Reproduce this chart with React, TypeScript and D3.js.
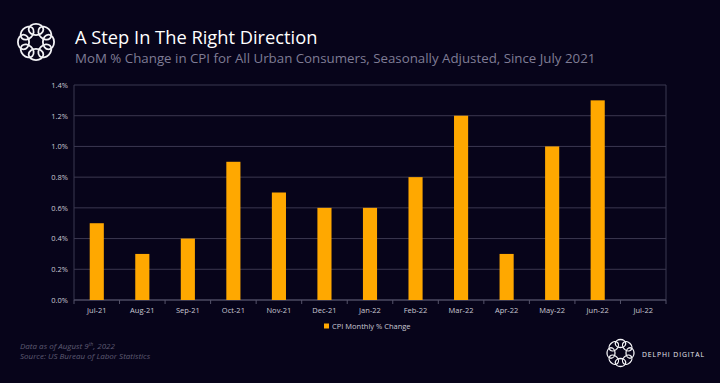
import React from "react";
import * as d3 from "d3";

const categories = ["Jul-21","Aug-21","Sep-21","Oct-21","Nov-21","Dec-21","Jan-22","Feb-22","Mar-22","Apr-22","May-22","Jun-22","Jul-22"];
const cpiValues: (number | null)[] = [0.5,0.3,0.4,0.9,0.7,0.6,0.6,0.8,1.2,0.3,1.0,1.3,null];
const yTicks = [0,0.2,0.4,0.6,0.8,1.0,1.2,1.4];

const W = 720, H = 383;
const BG = "#07041a";
const ORANGE = "#FFA800";
const GRID = "#3b3850";
const FONT = "'Open Sans', 'Liberation Sans', sans-serif";

function Logo({ cx, cy, r, lr, sw }: { cx: number; cy: number; r: number; lr: number; sw: number }) {
  const n = 8;
  return (
    <g fill="none" stroke="#f2f2f5" strokeWidth={sw}>
      {d3.range(n).map(i => {
        const a = (i / n) * Math.PI * 2 - Math.PI / 2;
        const x = cx + r * Math.cos(a), y = cy + r * Math.sin(a);
        return (
          <ellipse key={i} cx={x} cy={y} rx={lr * 1.05} ry={lr * 0.8}
            transform={`rotate(${(a * 180) / Math.PI + 90} ${x} ${y})`} />
        );
      })}
    </g>
  );
}

export default function App() {
  const x0 = 74, x1 = 666, yTop = 85, yBot = 300;
  const x = d3.scaleBand<string>().domain(categories).range([x0, x1]).paddingInner(0.69).paddingOuter(0.345);
  const xb = d3.scaleBand<string>().domain(categories).range([x0, x1]);
  const y = d3.scaleLinear().domain([0, 1.4]).range([yBot, yTop]);
  const fmt = d3.format(".1f");
  return (
    <svg width={W} height={H} style={{ position: "absolute", left: 0, top: 0, display: "block" }}>
      <rect width={W} height={H} fill={BG} />
      <Logo cx={36} cy={42} r={12.5} lr={7} sw={1.8} />
      <text x={75} y={44} fill="#ffffff" fontFamily={FONT} fontSize={18.3}>A Step In The Right Direction</text>
      <text x={75} y={63} fill="#7f7c95" fontFamily={FONT} fontSize={13.3}>MoM % Change in CPI for All Urban Consumers, Seasonally Adjusted, Since July 2021</text>

      {yTicks.map(t => (
        <g key={t}>
          <line x1={x0} x2={x1} y1={y(t)} y2={y(t)} stroke={GRID} strokeWidth={1} />
          <text x={x0 - 6} y={y(t) + 2.8} textAnchor="end" fill="#c9c8d3" fontFamily={FONT} fontSize={7.5}>{fmt(t)}%</text>
        </g>
      ))}
      <line x1={x0} x2={x0} y1={yTop} y2={yBot} stroke={GRID} />
      <line x1={x1} x2={x1} y1={yTop} y2={yBot} stroke={GRID} />
      <line x1={x0} x2={x1} y1={yBot} y2={yBot} stroke="#55536a" />
      {categories.map(c => (
        <line key={"t" + c} x1={xb(c)!} x2={xb(c)!} y1={yBot} y2={yBot + 4} stroke="#55536a" />
      ))}
      <line x1={x1} x2={x1} y1={yBot} y2={yBot + 4} stroke="#55536a" />

      {categories.map((c, i) => {
        const v = cpiValues[i];
        return v == null ? null : (
          <rect key={c} x={x(c)!} width={x.bandwidth()} y={y(v)} height={y(0) - y(v)} fill={ORANGE} />
        );
      })}
      {categories.map(c => (
        <text key={"l" + c} x={xb(c)! + xb.bandwidth() / 2} y={313} textAnchor="middle" fill="#c9c8d3" fontFamily={FONT} fontSize={7.5}>{c}</text>
      ))}

      <rect x={324} y={323.5} width={5} height={5} fill={ORANGE} />
      <text x={332} y={328.5} fill="#c9c8d3" fontFamily={FONT} fontSize={7.5}>CPI Monthly % Change</text>

      <text x={20} y={349} fill="#5e5b72" fontFamily={FONT} fontSize={8} fontStyle="italic">
        Data as of August 9<tspan fontSize={5} dy={-3}>th</tspan><tspan dy={3}>, 2022</tspan>
      </text>
      <text x={20} y={359} fill="#5e5b72" fontFamily={FONT} fontSize={8} fontStyle="italic">Source: US Bureau of Labor Statistics</text>

      <Logo cx={620.5} cy={353} r={9.5} lr={5} sw={1.3} />
      <text x={642} y={356.5} fill="#e8e8ee" fontFamily={FONT} fontSize={6.8} letterSpacing={0.9}>DELPHI DIGITAL</text>
    </svg>
  );
}
